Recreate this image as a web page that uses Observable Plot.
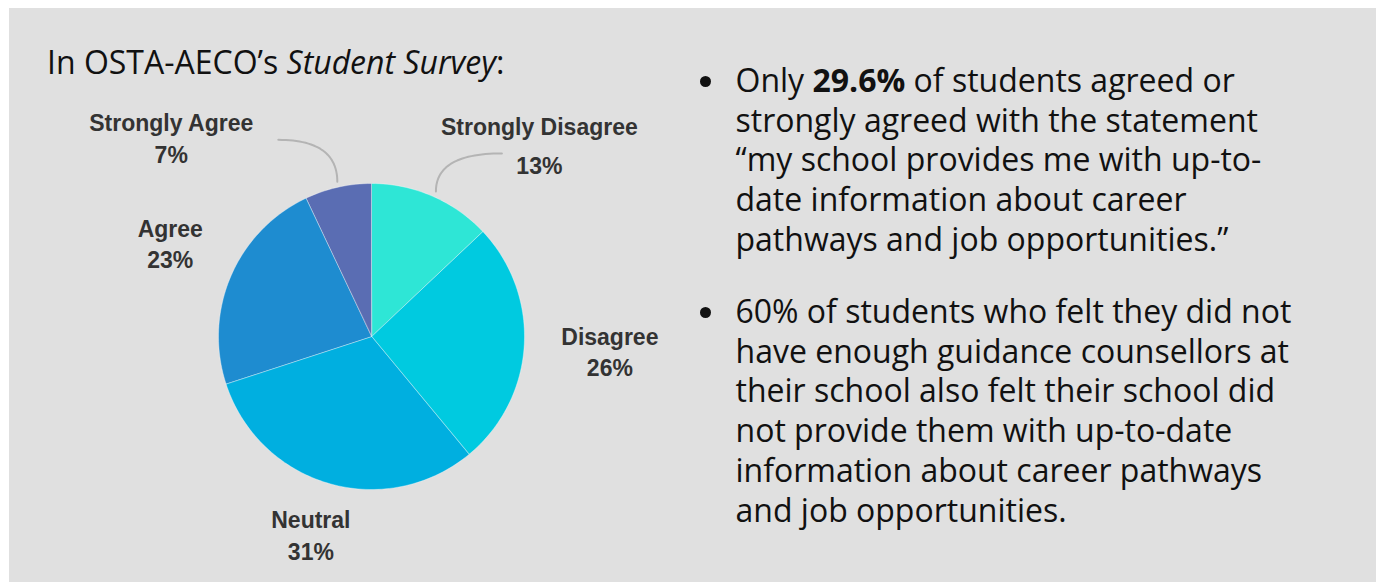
<!DOCTYPE html>
<html>
<head>
<meta charset="utf-8">
<script src="https://cdn.jsdelivr.net/npm/d3@7"></script>
<script src="https://cdn.jsdelivr.net/npm/@observablehq/plot@0.6"></script>
<style>
  html, body { margin: 0; padding: 0; background: #fff; width: 1378px; height: 582px; overflow: hidden; }
  #panel { position: absolute; left: 9px; top: 8px; width: 1367px; height: 574px; background: #e0e0e0; }
  #chart { position: absolute; left: 0; top: 0; }
  #title { position: absolute; left: 47px; top: 45.6px; font-family: "Open Sans", sans-serif; font-size: 32px; line-height: 32px; color: #111; white-space: nowrap; }
  .bullet { position: absolute; left: 735.5px; font-family: "Open Sans", sans-serif; font-size: 32px; line-height: 39.7px; color: #111; white-space: nowrap; }
  .dot { position: absolute; left: -36px; top: 16px; width: 11px; height: 11px; border-radius: 50%; background: #111; }
</style>
</head>
<body>
<div id="panel"></div>
<div id="chart"></div>
<div id="title">In OSTA-AECO’s <i>Student Survey</i>:</div>
<div class="bullet" style="top:60px"><span class="dot"></span>Only <b>29.6%</b> of students agreed or<br>strongly agreed with the statement<br>“my school provides me with up-to-<br>date information about career<br>pathways and job opportunities.”</div>
<div class="bullet" style="top:291px"><span class="dot"></span>60% of students who felt they did not<br>have enough guidance counsellors at<br>their school also felt their school did<br>not provide them with up-to-date<br>information about career pathways<br>and job opportunities.</div>
<script>
// ---- data ----
const categories = ["Strongly Disagree", "Disagree", "Neutral", "Agree", "Strongly Agree"];
const percents = [13, 26, 31, 23, 7];

// ---- styling / layout ----
const colors = ["#2ee6d6", "#00cae0", "#00afe0", "#1e8cd0", "#5a6db3"];
const W = 680, H = 582, CX = 371.5, CY = 336.5, R = 153;
// label placement (radius in px from centre, angle shift from slice mid-angle, line gap)
const layout = {
  "Strongly Disagree": {r: 262, da: 16.3, gap: 39, leader: {da: 0.3, dx: 66, dy: 38}},
  "Disagree": {r: 238, da: -1.7, gap: 31.4},
  "Neutral": {r: 201, da: 1.5, gap: 31.7},
  "Agree": {r: 225, da: 2.9, gap: 31},
  "Strongly Agree": {r: 288, da: -31.6, gap: 32, leader: {da: 0, dx: -59, dy: 42}}
};

const rad = d => d * Math.PI / 180;
const polar = (r, deg) => [r * Math.sin(rad(deg)), r * Math.cos(rad(deg))];

let cum = 0;
const slices = categories.map((c, i) => {
  const a0 = cum / 100 * 360;
  cum += percents[i];
  const a1 = cum / 100 * 360;
  return {c, p: percents[i], a0, a1, mid: (a0 + a1) / 2};
});

const wedgePts = slices.flatMap(s => {
  const n = Math.max(8, Math.ceil((s.a1 - s.a0) / 1.5));
  return d3.range(n + 1).map(k => {
    const a = s.a0 + (s.a1 - s.a0) * k / n;
    const [x, y] = polar(R, a);
    return {c: s.c, x1: x, y1: y, x2: 0, y2: 0};
  });
});

const labels = slices.map(s => {
  const L = layout[s.c];
  const [x, y] = polar(L.r, s.mid + L.da);
  return {c: s.c, p: s.p, x, y, gap: L.gap};
});

const leaders = slices.filter(s => layout[s.c].leader).flatMap(s => {
  const L = layout[s.c].leader;
  const [x0, y0] = polar(R + 6, s.mid + L.da);
  const x2 = x0 + L.dx, y2 = y0 + L.dy;
  const qx = x0, qy = y2;
  return d3.range(31).map(k => {
    const t = k / 30, u = 1 - t;
    return {c: s.c, x: u * u * x0 + 2 * u * t * qx + t * t * x2, y: u * u * y0 + 2 * u * t * qy + t * t * y2};
  });
});

const labelFont = {fontFamily: "'Liberation Sans', Arial, sans-serif", fontSize: 23, fontWeight: "bold", fill: "#333", textAnchor: "middle", lineAnchor: "bottom"};

const chart = Plot.plot({
  width: W,
  height: H,
  margin: 0,
  x: {domain: [-CX, W - CX], axis: null},
  y: {domain: [-(H - CY), CY], axis: null},
  color: {domain: categories, range: colors},
  style: {background: "transparent", overflow: "visible"},
  marks: [
    Plot.area(wedgePts, {x1: "x1", y1: "y1", x2: "x2", y2: "y2", z: "c", fill: "c", stroke: "#ffffff", strokeOpacity: 0.35, strokeWidth: 1}),
    Plot.line(leaders, {x: "x", y: "y", z: "c", stroke: "#b4b4b4", strokeWidth: 2}),
    Plot.text(labels, {x: "x", y: "y", text: "c", ...labelFont}),
    Plot.text(labels, {x: "x", y: d => d.y - d.gap, text: d => d.p + "%", ...labelFont})
  ]
});
document.getElementById("chart").appendChild(chart);
</script>
</body>
</html>
